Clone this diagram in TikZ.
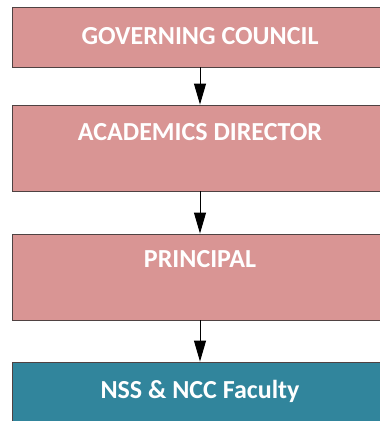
\documentclass[tikz,border=0pt]{standalone}
\usepackage{fontspec}
\setmainfont{Carlito}
\usepackage{tikz}
\usetikzlibrary{arrows.meta}
\definecolor{rosebox}{HTML}{D99594}
\definecolor{tealbox}{HTML}{31859C}
\definecolor{boxline}{HTML}{4F4242}

\begin{document}
\begin{tikzpicture}[x=1pt,y=-1pt,
						orgnode/.style={rectangle, draw=boxline, line width=0.9pt, fill=rosebox, text=white, inner sep=0pt, minimum width=376pt, font=\fontsize{26}{31}\selectfont\bfseries},
						facnode/.style={orgnode, fill=tealbox},
						]
						\clip (0,0) rectangle (380,421);
						%Nodes
						\node[orgnode, text height=37pt, text depth=23pt]      (gov) 	at 	(200,37)           {GOVERNING COUNCIL};
						\node[orgnode, text height=35pt, text depth=51pt]      (dir) 	at 	(200,148)          {ACADEMICS DIRECTOR};
						\node[orgnode, text height=33pt, text depth=53pt]      (prin) 	at 	(200,277)          {PRINCIPAL};
						\node[facnode, text height=36pt, text depth=50pt]      (fac) 	at 	(200,405)          {NSS \& NCC Faculty};

						%Lines
						\draw[line width=1pt,-{Triangle[width=12pt,length=21pt]}] (gov.south) -- (dir.north);
						\draw[line width=1pt,-{Triangle[width=12pt,length=21pt]}] (dir.south) -- (prin.north);
						\draw[line width=1pt,-{Triangle[width=12pt,length=21pt]}] (prin.south) -- (fac.north);
					\end{tikzpicture}
\end{document}
